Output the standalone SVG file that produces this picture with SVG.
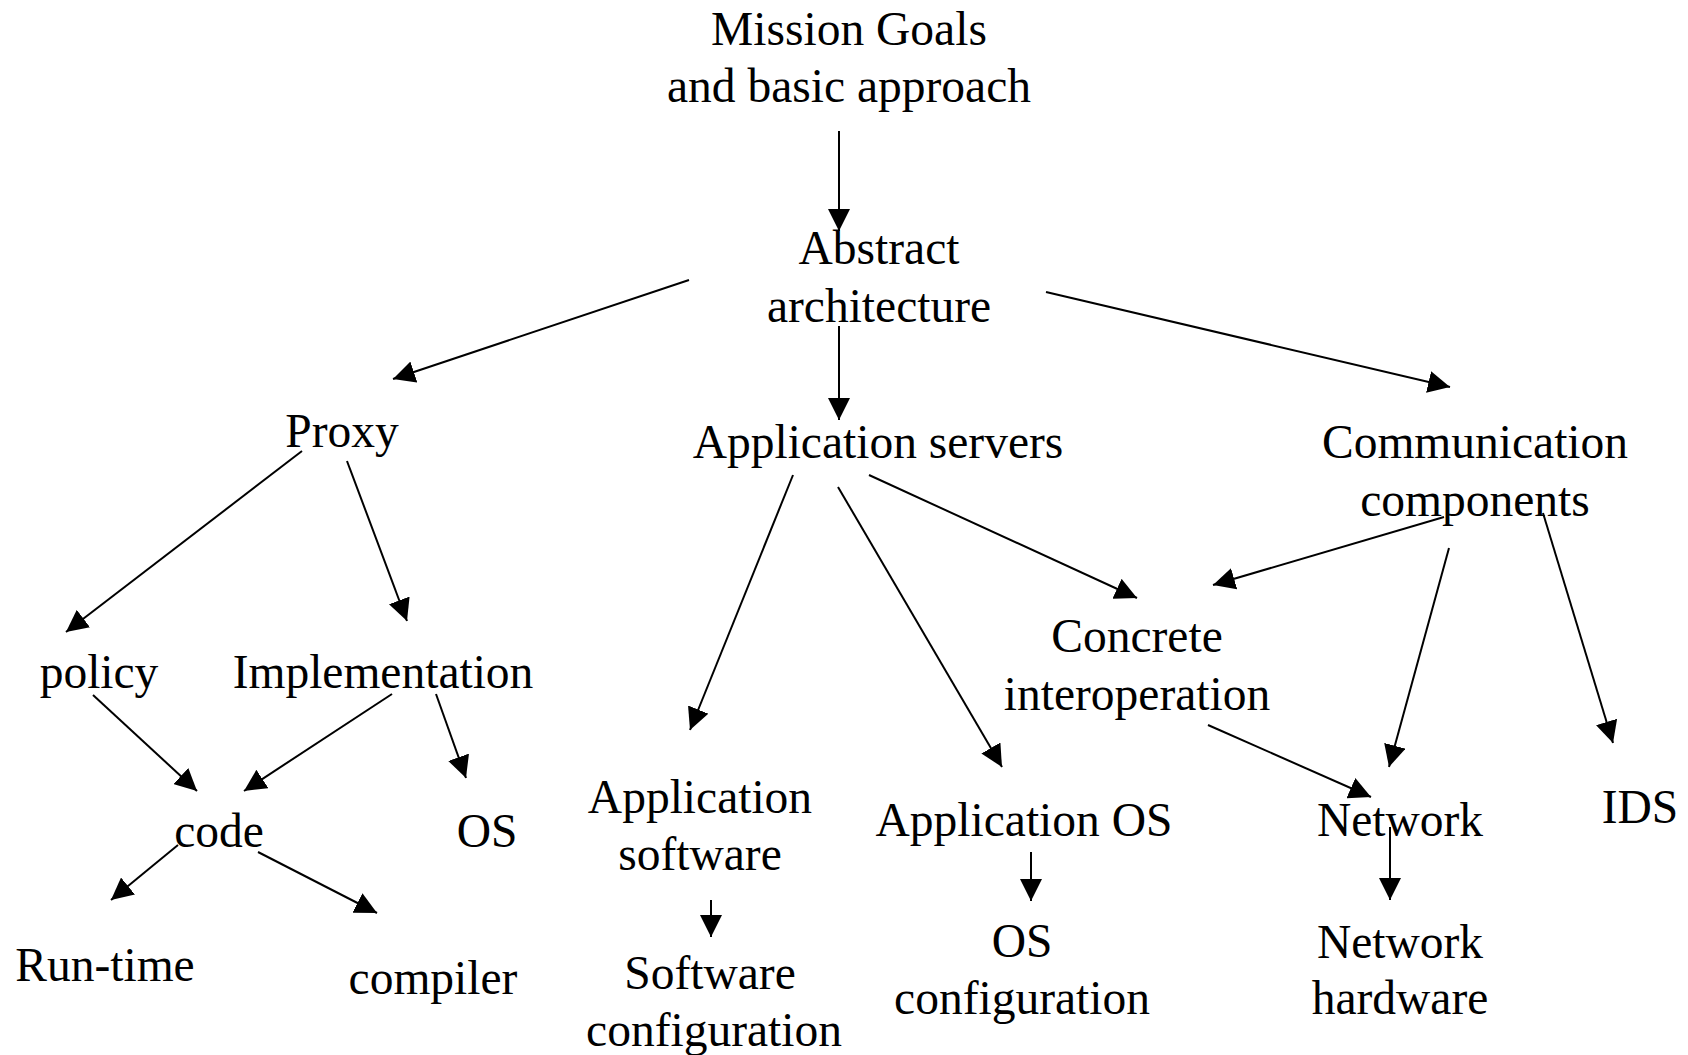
<svg xmlns="http://www.w3.org/2000/svg" width="1688" height="1055" viewBox="0 0 1688 1055">
  <style>
    text { font-family: "Liberation Serif", "Times New Roman", serif; font-size: 47.5px; fill: #000; text-anchor: middle; }
    .edge { stroke: #000; stroke-width: 2; fill: none; marker-end: url(#ah); }
  </style>
  <defs>
    <marker id="ah" markerUnits="userSpaceOnUse" markerWidth="22" markerHeight="22" viewBox="0 0 22 22" refX="22" refY="11" orient="auto">
      <path d="M0,0 L22,11 L0,22 Z" fill="#000"/>
    </marker>
  </defs>
  <rect width="1688" height="1055" fill="#fff"/>

  <!-- connectors -->
  <g id="connectors">
    <line class="edge" x1="839" y1="131" x2="839" y2="231"/>
    <line class="edge" x1="689" y1="280" x2="393" y2="379"/>
    <line class="edge" x1="839" y1="326" x2="839" y2="420"/>
    <line class="edge" x1="1046" y1="292" x2="1450" y2="387"/>
    <line class="edge" x1="302" y1="451" x2="66" y2="632"/>
    <line class="edge" x1="347" y1="461" x2="407" y2="621"/>
    <line class="edge" x1="93" y1="695" x2="197" y2="791"/>
    <line class="edge" x1="392" y1="694" x2="244" y2="791"/>
    <line class="edge" x1="436" y1="694" x2="466" y2="778"/>
    <line class="edge" x1="178" y1="845" x2="111" y2="900"/>
    <line class="edge" x1="258" y1="852" x2="377" y2="913"/>
    <line class="edge" x1="793" y1="475" x2="690" y2="730"/>
    <line class="edge" x1="838" y1="487" x2="1002" y2="767"/>
    <line class="edge" x1="869" y1="475" x2="1137" y2="598"/>
    <line class="edge" x1="1444" y1="517" x2="1213" y2="585"/>
    <line class="edge" x1="1449" y1="548" x2="1389" y2="767"/>
    <line class="edge" x1="1543" y1="513" x2="1613" y2="743"/>
    <line class="edge" x1="1208" y1="725" x2="1371" y2="797"/>
    <line class="edge" x1="711" y1="900" x2="711" y2="937"/>
    <line class="edge" x1="1031" y1="852" x2="1031" y2="901"/>
    <line class="edge" x1="1390" y1="827" x2="1390" y2="900"/>
  </g>

  <!-- nodes -->
  <g id="mission"><text x="849" y="45">Mission Goals</text><text x="849" y="102">and basic approach</text></g>
  <g id="abstract"><text x="879" y="264">Abstract</text><text x="879" y="322">architecture</text></g>
  <g id="proxy"><text x="342" y="447">Proxy</text></g>
  <g id="app-servers"><text x="878" y="458">Application servers</text></g>
  <g id="comm"><text x="1475" y="458">Communication</text><text x="1475" y="516">components</text></g>
  <g id="policy"><text x="99" y="688">policy</text></g>
  <g id="implementation"><text x="383" y="688">Implementation</text></g>
  <g id="concrete"><text x="1137" y="652">Concrete</text><text x="1137" y="710">interoperation</text></g>
  <g id="code"><text x="219" y="847">code</text></g>
  <g id="os"><text x="487" y="847">OS</text></g>
  <g id="app-software"><text x="700" y="813">Application</text><text x="700" y="870">software</text></g>
  <g id="app-os"><text x="1024" y="836">Application OS</text></g>
  <g id="network"><text x="1400" y="836">Network</text></g>
  <g id="ids"><text x="1640" y="823">IDS</text></g>
  <g id="runtime"><text x="105" y="981">Run-time</text></g>
  <g id="compiler"><text x="433" y="994">compiler</text></g>
  <g id="sw-config"><text x="710" y="989">Software</text><text x="714" y="1046">configuration</text></g>
  <g id="os-config"><text x="1022" y="957">OS</text><text x="1022" y="1014">configuration</text></g>
  <g id="net-hw"><text x="1400" y="958">Network</text><text x="1400" y="1014">hardware</text></g>
</svg>
